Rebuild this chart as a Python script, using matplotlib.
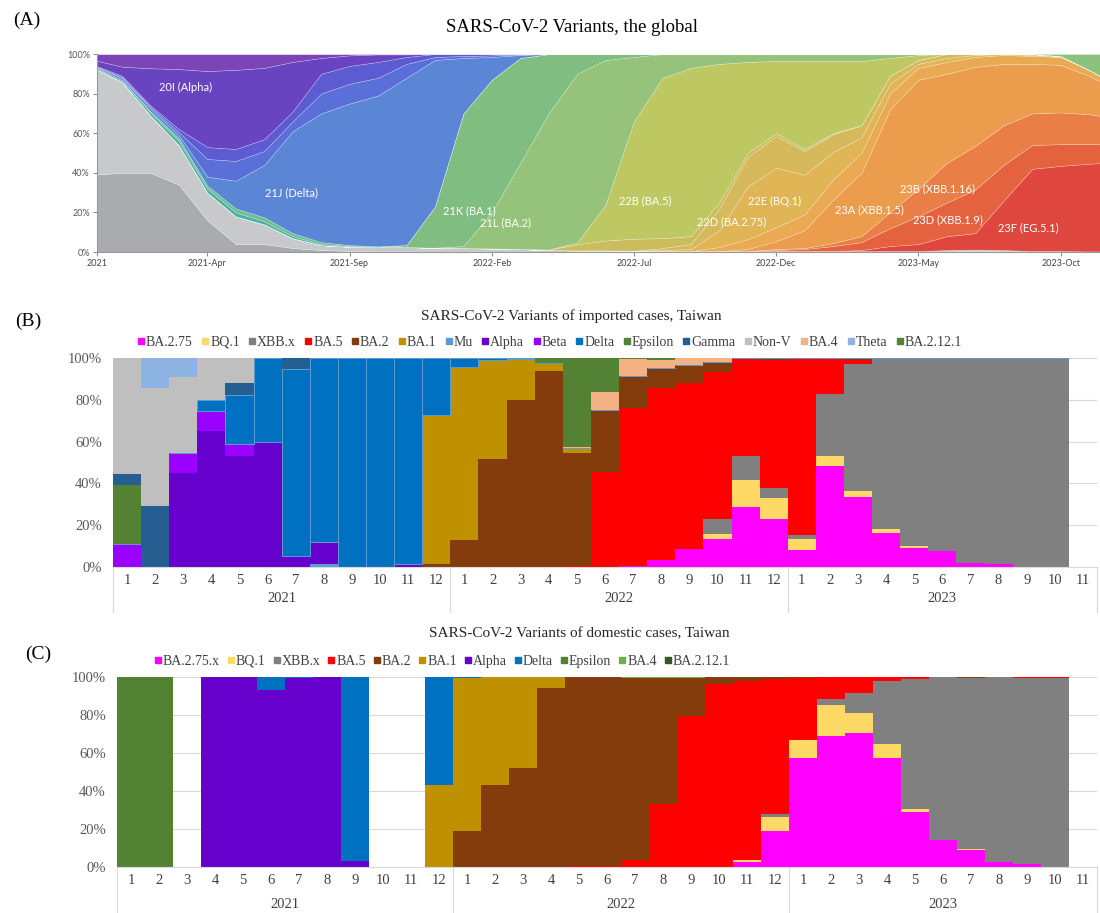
import numpy as np
import matplotlib
matplotlib.use("Agg")
import matplotlib.pyplot as plt
import matplotlib.transforms as mtransforms
from matplotlib.patches import Rectangle

SERIF = ["Liberation Serif", "DejaVu Serif"]

# ---------------- panel A : global clade frequencies (%), monthly, Dec 2020 .. Nov 2023
months = np.arange(-1, 36)  # months since Jan 2021

grey_dark = [39, 40, 40, 34, 16, 4, 4, 2, 1, .5, .3, .3, .2, .2, .2, .2, .1, .1, .1, .1,
             0, 0, 0, 0, 0, 0, 0, 0, 0, 0, .3, .5, .4, .2, .2, .1, .1]
grey_light = [54, 46, 29, 20, 14, 14, 10, 5, 2.5, 2.2, 2.1, 2.2, 2, 1.8, 1.6, 1.3, .9, .7, .7, .6,
              .5, .5, .5, .5, .5, .5, .5, .5, .5, .5, .7, .7, .6, .3, .3, .2, .2]
c23F = [0] * 27 + [.5, 2.5, 3.5, 7, 8.3, 25, 41.5, 43, 44.3, 45]
c23D = [0] * 24 + [.5, 1, 2.5, 4, 9, 14, 17, 22, 18, 12, 11, 10, 9]
c23B = [0] * 24 + [.5, .5, 1.5, 3, 8, 14, 20, 22, 20, 16, 16, 15, 13]
c23A = [0] * 23 + [1, 4, 9, 22, 32, 52, 55, 45, 40, 31, 25, 24, 19.4, 14]
c22F = [0] * 22 + [2, 5, 7, 8, 10, 10, 8, 6, 6, 5, 4.5, 4, 4, 3, 2.7]
c22E = [0] * 20 + [.5, 1, 8.5, 26.5, 30, 20, 14, 8, 5, 2, 2, 1, .5, .5, 0, 0, 0]
c22D = [0] * 20 + [1, 2.5, 11, 15, 16, 12, 9, 6, 4, 2, 2, .5, 0, .5, .5, 0, 0]
c22A = [0] * 16 + [.3, 3, 5, 6, 5, 4, 3, 2, 1.5, 1, .5] + [0] * 10
c22B = [0] * 17 + [1, 18.2, 59.3, 81, 85, 70, 46, 36.5, 44.5, 36.5, 32.5, 9, 2.5] + [0] * 7
c21L = [0] * 13 + [1, 18.2, 43.5, 68.7, 85.2, 73, 32.5, 12, 7, 5, 4, 3.5, 3.5, 3.5, 3.5, 2, .5] + [0] * 7
c21K = [0] * 11 + [1, 20.8, 67, 67, 53, 30, 10, 3, 1.5] + [0] * 17
teal = [.5, .8, 1.5, 2, 2, 2, 1.5, 1, .5, .3, .2] + [0] * 26
lgreen = [0, 0, .5, 1.5, 1.5, 2, 2, 1.5, 1, .5, .3] + [0] * 26
c21J = [.5, 1, 1.5, 1.5, 4.5, 14, 26.5, 51.5, 65, 71.5, 76.1, 84.5, 74, 28, 11.5, 1.5] + [0] * 21
c21I = [.3, .5, .8, 1.5, 9, 10, 7, 5, 10, 10, 9, 7, 1.5, 1, .8, .3] + [0] * 21
c21A = [.2, .7, .7, 1.5, 6, 6, 6, 5, 10, 9, 8, 3.5, 1.5, 1, .7, .2] + [0] * 21
c20I = [2.5, 4.6, 18.8, 30.4, 38.4, 40, 36, 25, 8, 5.3, 3.8, 1.3] + [0] * 25
c_top = [3, 6.4, 7.2, 7.6, 8.6, 8, 7, 4, 2, .7, .2, .2] + [0] * 25
c23I = [0] * 34 + [1, 8, 16]

# bottom -> top
global_series = [grey_dark, grey_light, c23F, c23D, c23B, c23A, c22F, c22E, c22D, c22A, c22B,
                 c21L, c21K, teal, lgreen, c21J, c21I, c21A, c20I, c_top, c23I]
global_colors = ["#a9abae", "#c7c9cb", "#df473e", "#e5623f", "#e97f46", "#eb9c4d", "#e9aa53",
                 "#dfb556", "#d6b95a", "#cbbd5d", "#bec862", "#96c37b", "#80bd80", "#4bb0a6",
                 "#69c18d", "#5b86d6", "#5a6fd8", "#5c5bd2", "#6944c1", "#7b45b6", "#8cc27e"]

global_labels = ["20I (Alpha)", "21J (Delta)", "21K (BA.1)", "21L (BA.2)", "22B (BA.5)",
                 "22D (BA.2.75)", "22E (BQ.1)", "23A (XBB.1.5)", "23B (XBB.1.16)",
                 "23D (XBB.1.9)", "23F (EG.5.1)"]
label_pos = [(2.23, 83), (5.95, 30), (12.2, 21), (13.5, 14.6), (18.4, 25.8), (21.45, 15.2),
             (22.96, 25.3), (26.27, 21.2), (28.66, 31.8), (29.05, 16.2), (31.86, 12.1)]

a_ticks = [-0.88, 3, 8, 13, 18, 23, 28, 33]
a_tick_labels = ["2021", "2021-Apr", "2021-Sep", "2022-Feb", "2022-Jul", "2022-Dec",
                 "2023-May", "2023-Oct"]

# ---------------- panels B and C : Taiwan monthly variant share (%)
month_labels = [str(m) for m in range(1, 13)] * 2 + [str(m) for m in range(1, 12)]
years = ["2021", "2022", "2023"]

imp_BA275 = [0] * 18 + [.3, 3.2, 8.8, 13.3, 28.8, 22.9, 8.3, 48.5, 33.6, 16.5, 9.3, 7.7, 1.9, 1.3, 0, 0, 0]
imp_BQ1 = [0] * 21 + [2.7, 12.8, 9.9, 5.3, 4.6, 2.7, 1.9, .6] + [0] * 6
imp_XBB = [0] * 21 + [6.9, 11.7, 4.8, 1.9, 29.8, 60.8, 81.1, 90.1, 92.3, 98.1, 98.7, 100, 100, 0]
imp_BA5 = [0] * 16 + [.5, 45.6, 75.7, 82.4, 79.2, 70.2, 46.7, 61.6, 84, 17.1, 2] + [0] * 8
imp_BA2 = [0] * 11 + [1.5, 12.8, 51.7, 80, 94, 53.9, 29.6, 15.2, 9.6, 8.8, 4.9, 0, .8, .5, 0, .9, .5] + [0] * 7
imp_BA1 = [0] * 11 + [71.3, 82.7, 47.5, 19.5, 3.6, 2.4] + [0] * 18
imp_Mu = [0] * 7 + [1.6] + [0] * 27
imp_Alpha = [0, 0, 45, 65, 53, 60, 5.5, 10.4, 0, 0, 1.5] + [0] * 24
imp_Beta = [11, 0, 9.5, 9.5, 6] + [0] * 30
imp_Delta = [0, 0, 0, 5.5, 23.5, 40, 89, 88, 100, 100, 98.5, 27.2, 4.5, .8, .5] + [0] * 20
imp_Epsilon = [28] + [0] * 34
imp_Gamma = [5.5, 29, 0, 0, 5.5, 0, 5.5] + [0] * 28
imp_NonV = [55.5, 56.5, 36.5, 20, 12] + [0] * 30
imp_BA4 = [0] * 16 + [.8, 8.3, 8.3, 4, 3.2, 2] + [0] * 13
imp_Theta = [0, 14.5, 9] + [0] * 32
imp_BA2121 = [0] * 15 + [2.4, 42.4, 16.5, .5, .8] + [0] * 15

imp_names = ["BA.2.75", "BQ.1", "XBB.x", "BA.5", "BA.2", "BA.1", "Mu", "Alpha", "Beta", "Delta",
             "Epsilon", "Gamma", "Non-V", "BA.4", "Theta", "BA.2.12.1"]
imp_values = [imp_BA275, imp_BQ1, imp_XBB, imp_BA5, imp_BA2, imp_BA1, imp_Mu, imp_Alpha, imp_Beta,
              imp_Delta, imp_Epsilon, imp_Gamma, imp_NonV, imp_BA4, imp_Theta, imp_BA2121]
imp_colors = ["#ff00ff", "#ffd966", "#808080", "#ff0000", "#843c0c", "#bf9000", "#5b9bd5", "#6600cc",
              "#9900ff", "#0070c0", "#548235", "#255e91", "#bfbfbf", "#f4b183", "#8db3e2", "#548235"]

dom_BA275 = [0] * 22 + [2.6, 19, 57.3, 68.8, 70.5, 57.3, 28.7, 14.1, 8.8, 2.6, 1.6, 0, 0]
dom_BQ1 = [0] * 22 + [.9, 7.1, 9.4, 16.7, 10.3, 7.6, 1.6, 0, .9, 0, 0, 0, 0]
dom_XBB = [0] * 23 + [1.8, 0, 2.7, 10.6, 33, 68.8, 85.9, 89.8, 97.4, 97.9, 99.5, 0]
dom_BA5 = [0] * 16 + [.3, .5, 3.9, 33, 79.4, 96.5, 94.4, 71.2, 32.8, 11.8, 8.6, 2.1, .9, 0, 0, 0, .5, .5, 0]
dom_BA2 = [0] * 12 + [19, 43.4, 52.2, 94.2, 99.7, 99.5, 95.7, 66.5, 20.1, 3.5, 2.1, .9, .5, 0, 0, 0, 0, 0, .5] + [0] * 4
dom_BA1 = [0] * 11 + [42.9, 80.5, 56.6, 47.8, 5.8] + [0] * 19
dom_Alpha = [0, 0, 0, 100, 100, 93, 99.5, 100, 3.2] + [0] * 26
dom_Delta = [0, 0, 0, 0, 0, 7, .5, 0, 96.8, 0, 0, 57.1, .5] + [0] * 22
dom_Epsilon = [100, 100] + [0] * 33
dom_BA4 = [0] * 18 + [.4, .5, .5] + [0] * 14
dom_BA2121 = [0] * 35

dom_names = ["BA.2.75.x", "BQ.1", "XBB.x", "BA.5", "BA.2", "BA.1", "Alpha", "Delta", "Epsilon",
             "BA.4", "BA.2.12.1"]
dom_values = [dom_BA275, dom_BQ1, dom_XBB, dom_BA5, dom_BA2, dom_BA1, dom_Alpha, dom_Delta,
              dom_Epsilon, dom_BA4, dom_BA2121]
dom_colors = ["#ff00ff", "#ffd966", "#808080", "#ff0000", "#843c0c", "#bf9000", "#6600cc", "#0070c0",
              "#548235", "#70ad47", "#375623"]


fig = plt.figure(figsize=(11, 9.13), dpi=100)
W, H = 1100.0, 913.0


def add_axes_px(left, top, right, bottom):
    return fig.add_axes([left / W, 1 - bottom / H, (right - left) / W, (bottom - top) / H])


# ---------------- (A)
axA = add_axes_px(97, 54, 1099, 252)
vals = np.array(global_series, dtype=float)
vals = vals / vals.sum(axis=0) * 100
axA.stackplot(months, vals, colors=global_colors, edgecolor=(1, 1, 1, 0.35), linewidth=0.4)
axA.set_xlim(-0.88, 34.35)
axA.set_ylim(0, 100)
for name, (x, y) in zip(global_labels, label_pos):
    axA.text(x, y, name, color="white", fontsize=8, family="Lato", ha="center", va="center")
axA.set_yticks([0, 20, 40, 60, 80, 100])
axA.set_yticklabels(["0%", "20%", "40%", "60%", "80%", "100%"], fontsize=6.5, family="Lato",
                    color="#555555")
axA.set_xticks(a_ticks)
axA.set_xticklabels(a_tick_labels, fontsize=6.5, family="Lato", color="#444444")
axA.tick_params(length=3, width=0.7, color="#888888", pad=2)
for s in ["top", "right"]:
    axA.spines[s].set_visible(False)
for s in ["left", "bottom"]:
    axA.spines[s].set_color("#999999")
    axA.spines[s].set_linewidth(0.8)

fig.text(27 / W, 1 - 20 / H, "(A)", fontsize=14, family=SERIF, ha="center", va="center")
fig.text(572 / W, 1 - 28 / H, "SARS-CoV-2 Variants, the global", fontsize=13.5, family=SERIF,
         ha="center", va="center")


def bar_panel(ax, values, colors, names, edge_names, sep_depth, year_y):
    x = np.arange(len(month_labels))
    bottom = np.zeros(len(x))
    for v, c, n in zip(values, colors, names):
        v = np.array(v, dtype=float)
        if n in edge_names:
            ax.bar(x, v, width=1.0, bottom=bottom, color=c, edgecolor="#5b9bd5", linewidth=0.7, zorder=2)
        else:
            ax.bar(x, v, width=1.0, bottom=bottom, color=c, linewidth=0, zorder=2)
        bottom += v
    ax.set_xlim(-0.5, len(x) - 0.5)
    ax.set_ylim(0, 100)
    ax.set_yticks([0, 20, 40, 60, 80, 100])
    ax.set_yticklabels(["0%", "20%", "40%", "60%", "80%", "100%"], fontsize=10.5, family=SERIF,
                       color="#595959")
    ax.set_xticks(x)
    ax.set_xticklabels(month_labels, fontsize=10.5, family=SERIF, color="#404040")
    ax.tick_params(length=0, pad=5)
    ax.tick_params(axis="y", pad=8)
    ax.yaxis.grid(True, color="#d9d9d9", linewidth=0.8, zorder=0)
    ax.set_axisbelow(True)
    for s in ["top", "right", "left"]:
        ax.spines[s].set_visible(False)
    ax.spines["bottom"].set_color("#d9d9d9")
    trans = mtransforms.blended_transform_factory(ax.transData, ax.transAxes)
    for xs in [-0.5, 11.5, 23.5, len(x) - 0.5]:
        ax.plot([xs, xs], [0, -sep_depth], color="#d9d9d9", linewidth=0.8, transform=trans,
                clip_on=False)
    for yr, xc in zip(years, [5.5, 17.5, 29]):
        ax.text(xc, year_y, yr, fontsize=10.5, family=SERIF, color="#404040", ha="center",
                va="center", transform=trans)


def legend_row(names, colors, left, right, cy):
    # excel-like legend laid out by hand so every label sits on one baseline
    r = fig.canvas.get_renderer()
    texts, widths = [], []
    for n in names:
        t = fig.text(0, 1 - (cy + 4.5) / H, n, fontsize=10, family=SERIF, color="#404040",
                     va="baseline", ha="left")
        widths.append(t.get_window_extent(r).width)
        texts.append(t)
    box, pad = 6, 2
    gap = (right - left - sum(widths) - len(names) * (box + pad)) / (len(names) - 1)
    x = left
    for t, w, c in zip(texts, widths, colors):
        fig.patches.append(Rectangle((x / W, 1 - (cy + box / 2) / H), box / W, box / H,
                                     transform=fig.transFigure, color=c, figure=fig))
        t.set_x((x + box + pad) / W)
        x += box + pad + w + gap


# ---------------- (B)
axB = add_axes_px(113, 358, 1097, 567)
bar_panel(axB, imp_values, imp_colors, imp_names, ["Delta"], 0.215, -0.15)
fig.text(28 / W, 1 - 321 / H, "(B)", fontsize=14, family=SERIF, ha="center", va="center")
fig.text(571 / W, 1 - 316 / H, "SARS-CoV-2 Variants of imported cases, Taiwan", fontsize=11,
         family=SERIF, ha="center", va="center", color="#262626")
legend_row(imp_names, imp_colors, 138, 962, 341)

# ---------------- (C)
axC = add_axes_px(117, 677, 1097, 867)
bar_panel(axC, dom_values, dom_colors, dom_names, [], 0.243, -0.195)
fig.text(38 / W, 1 - 654 / H, "(C)", fontsize=14, family=SERIF, ha="center", va="center")
fig.text(579 / W, 1 - 634 / H, "SARS-CoV-2 Variants of domestic cases, Taiwan", fontsize=11,
         family=SERIF, ha="center", va="center", color="#262626")
legend_row(dom_names, dom_colors, 155, 730, 660)

fig.savefig("out.png", dpi=100)
